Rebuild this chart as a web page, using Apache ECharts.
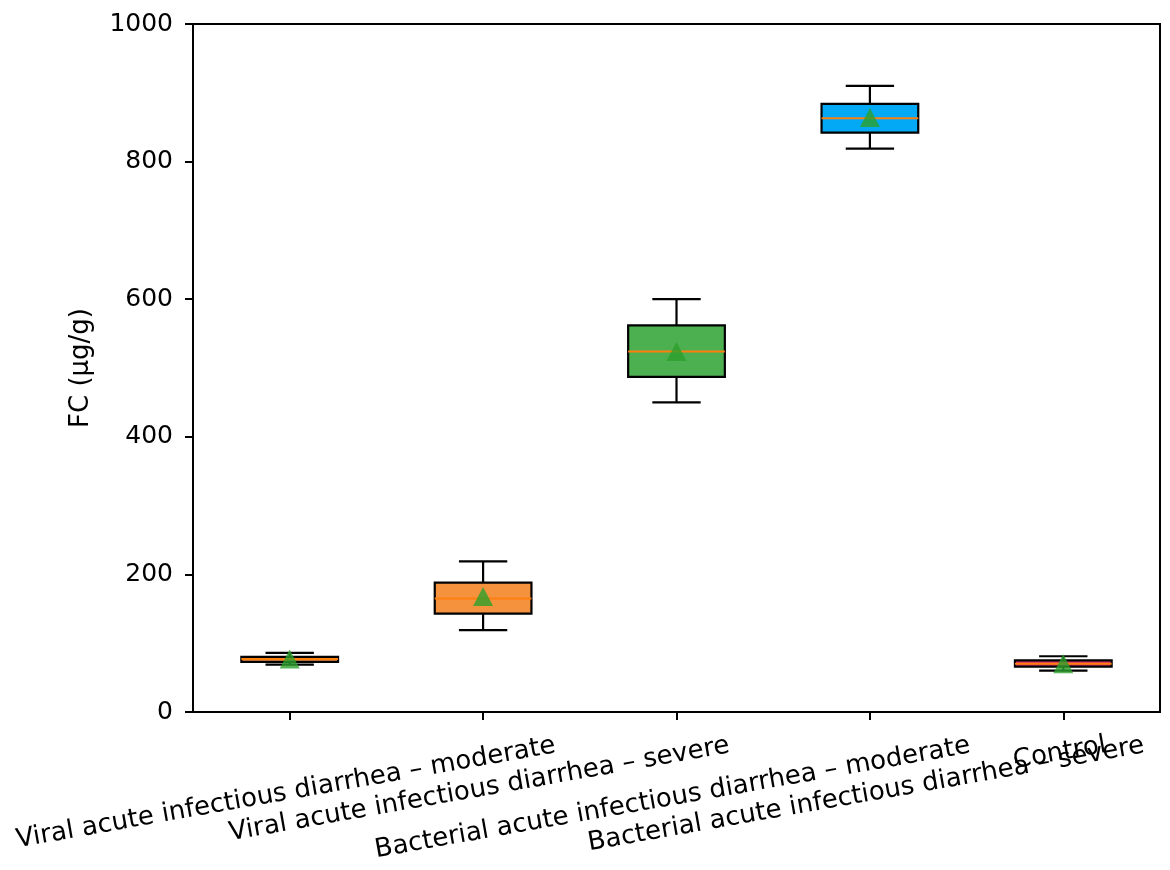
<!DOCTYPE html>
<html>
<head>
<meta charset="utf-8">
<script src="https://cdn.jsdelivr.net/npm/echarts@6/dist/echarts.min.js"></script>
<style>
html, body { margin: 0; padding: 0; background: #fff; }
#main { width: 1170px; height: 870px; }
</style>
</head>
<body>
<div id="main"></div>
<script>
// box stats per group
var categories = [
    'Viral acute infectious diarrhea \u2013 moderate',
    'Viral acute infectious diarrhea \u2013 severe',
    'Bacterial acute infectious diarrhea \u2013 moderate',
    'Bacterial acute infectious diarrhea \u2013 severe',
    'Control'
];
var whiskerLow  = [69, 119, 450, 819, 60];
var q1          = [73, 143, 487, 842, 66];
var medians     = [77, 165, 524, 863, 70];
var q3          = [80, 188, 562, 884, 75];
var whiskerHigh = [86, 219, 600, 910, 81];
var means       = [77, 168, 524, 864, 70];
var yTicks      = [0, 200, 400, 600, 800, 1000];

var boxColors = ['#f5923e', '#f5923e', '#4caf50', '#03a9f4', '#d6336c'];

var FONT = '"DejaVu Sans", sans-serif';
var FS = 26;      // x labels, y name
var TICK_FS = 25; // y tick labels
var ROT = 10;

// matplotlib puts the top of the rotated label box at a fixed distance,
// echarts rotates around the anchor -> pad each label by its half length
var ctx = document.createElement('canvas').getContext('2d');
ctx.font = FS + 'px "DejaVu Sans"';
var rich = {};
categories.forEach(function (c, i) {
    var w = ctx.measureText(c).width;
    var p = w / 2 * Math.sin(ROT * Math.PI / 180);
    rich['l' + i] = {
        fontSize: FS,
        fontFamily: FONT,
        color: '#000',
        padding: [p, p * 0.36 + 12, 0, 0]
    };
});

var boxData = categories.map(function (c, i) {
    return [i, whiskerLow[i], q1[i], medians[i], q3[i], whiskerHigh[i]];
});
var meanData = means.map(function (m, i) {
    return [i, m];
});

var chart = echarts.init(document.getElementById('main'));

chart.setOption({
    animation: false,
    backgroundColor: '#fff',
    grid: {
        left: 193,
        right: 10,
        top: 24,
        bottom: 158,
        show: true,
        borderColor: '#000',
        borderWidth: 2,
        outerBoundsMode: 'none'
    },
    xAxis: {
        type: 'category',
        data: categories,
        boundaryGap: true,
        axisLine: { show: true, lineStyle: { color: '#000', width: 2 } },
        axisTick: { show: true, alignWithLabel: true, length: 8, lineStyle: { color: '#000', width: 2 } },
        axisLabel: {
            interval: 0,
            rotate: ROT,
            align: 'center',
            verticalAlign: 'top',
            margin: 19,
            formatter: function (v, i) {
                return '{l' + i + '|' + v + '}';
            },
            rich: rich
        },
        splitLine: { show: false }
    },
    yAxis: {
        type: 'value',
        min: yTicks[0],
        max: yTicks[yTicks.length - 1],
        interval: 200,
        name: 'FC (\u03bcg/g)',
        nameLocation: 'middle',
        nameRotate: 90,
        nameGap: 99,
        nameTextStyle: { fontSize: FS, fontFamily: FONT, color: '#000' },
        axisLine: { show: true, lineStyle: { color: '#000', width: 2 } },
        axisTick: { show: true, length: 8, lineStyle: { color: '#000', width: 2 } },
        axisLabel: {
            fontSize: TICK_FS,
            fontFamily: FONT,
            color: '#000',
            margin: 20,
            formatter: function (v) { return String(v); }
        },
        splitLine: { show: false }
    },
    series: [
        {
            type: 'custom',
            data: boxData,
            encode: { x: 0, y: [1, 2, 3, 4, 5] },
            renderItem: function (params, api) {
                var i = api.value(0);
                var band = api.size([1, 0])[0];
                var half = band * 0.25;
                var cap = half / 2;
                var lo = api.coord([i, api.value(1)]);
                var b1 = api.coord([i, api.value(2)]);
                var md = api.coord([i, api.value(3)]);
                var b3 = api.coord([i, api.value(4)]);
                var hi = api.coord([i, api.value(5)]);
                var x = lo[0];
                var line = { stroke: '#000', lineWidth: 2.2 };
                return {
                    type: 'group',
                    children: [
                        { type: 'line', shape: { x1: x, y1: lo[1], x2: x, y2: b1[1] }, style: line },
                        { type: 'line', shape: { x1: x, y1: hi[1], x2: x, y2: b3[1] }, style: line },
                        { type: 'line', shape: { x1: x - cap, y1: lo[1], x2: x + cap, y2: lo[1] }, style: line },
                        { type: 'line', shape: { x1: x - cap, y1: hi[1], x2: x + cap, y2: hi[1] }, style: line },
                        {
                            type: 'rect',
                            shape: { x: x - half, y: b3[1], width: half * 2, height: b1[1] - b3[1] },
                            style: { fill: boxColors[params.dataIndex], stroke: '#000', lineWidth: 2.2 }
                        },
                        {
                            type: 'line',
                            shape: { x1: x - half, y1: md[1], x2: x + half, y2: md[1] },
                            style: { stroke: '#ff7f0e', lineWidth: 2 }
                        }
                    ]
                };
            },
            z: 2
        },
        {
            type: 'scatter',
            data: meanData,
            symbol: 'triangle',
            symbolSize: [20, 19],
            itemStyle: { color: '#2ca02c' },
            z: 3
        }
    ]
});
</script>
</body>
</html>
